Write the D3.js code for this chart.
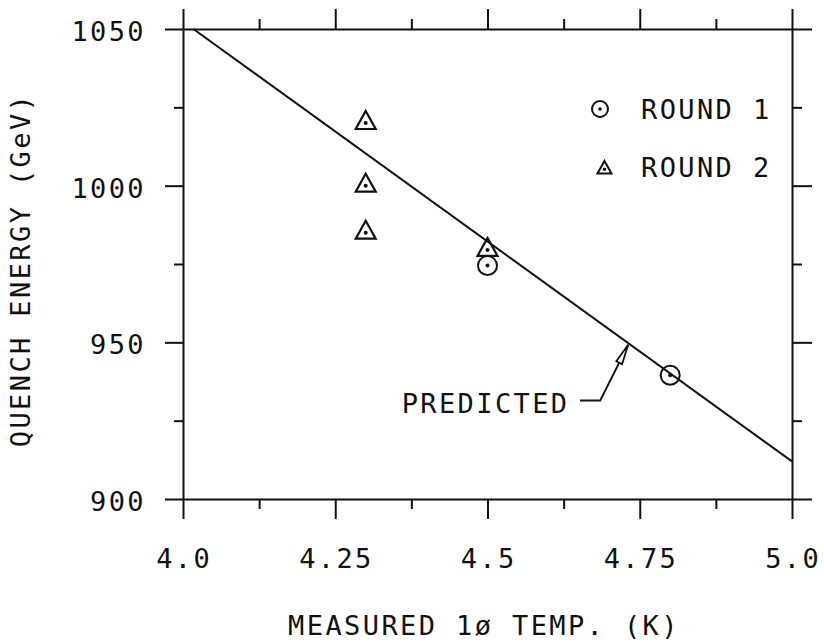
<!DOCTYPE html>
<html>
<head>
<meta charset="utf-8">
<script src="https://cdn.jsdelivr.net/npm/d3@7"></script>
<style>
  body { margin: 0; background: #fff; }
  svg { display: block; }
  text { font-family: "DejaVu Sans Mono", monospace; font-size: 27px; letter-spacing: 2.4px; fill: #111; }
</style>
</head>
<body>
<svg width="824" height="643"></svg>
<script>
// data
const xTickVals = [4.0, 4.25, 4.5, 4.75, 5.0];
const xTickLabels = ["4.0", "4.25", "4.5", "4.75", "5.0"];
const yTickVals = [900, 950, 1000, 1050];
const yTickLabels = ["900", "950", "1000", "1050"];

const round1X = [4.5, 4.8];
const round1Y = [974.5, 939.5];
const round2X = [4.3, 4.3, 4.3, 4.5];
const round2Y = [1020, 1000, 985, 979.5];

const predX = [4.017, 5.0];
const predY = [1050, 912];

// leader for the "PREDICTED" note: text start, dash start, elbow, arrow tip (data units)
const noteX = [4.359, 4.652, 4.685, 4.731];
const noteY = [927.4, 931.4, 931.4, 949.2];

const legendNames = ["ROUND 1", "ROUND 2"];

const svg = d3.select("svg");
const margin = {top: 29, right: 32, bottom: 144, left: 183};
const W = 824, H = 643;

const x = d3.scaleLinear().domain([4, 5]).range([margin.left, W - margin.right]);
const y = d3.scaleLinear().domain([900, 1050]).range([H - margin.bottom, margin.top]);

const xTicksAll = d3.range(0, 9).map(i => 4 + i * 0.125);
const yTicksAll = d3.range(0, 7).map(i => 900 + i * 25);
const isMajX = v => Math.abs(v * 4 - Math.round(v * 4)) < 1e-6;
const isMajY = v => v % 50 === 0;

function styleAxis(g, len, isMaj, big, small) {
  g.select(".domain").attr("stroke", "#111").attr("stroke-width", 2);
  g.selectAll(".tick line").attr("stroke", "#111").attr("stroke-width", 2)
    .attr(len, d => (isMaj(d) ? big : small));
  g.selectAll(".tick text").remove();
}

svg.append("g").attr("transform", `translate(0,${y(900)})`)
  .call(d3.axisBottom(x).tickValues(xTicksAll).tickSizeOuter(0))
  .call(g => styleAxis(g, "y2", isMajX, 20, 10));
svg.append("g").attr("transform", `translate(0,${y(1050)})`)
  .call(d3.axisTop(x).tickValues(xTicksAll).tickSizeOuter(0))
  .call(g => styleAxis(g, "y2", isMajX, -20, -10));
svg.append("g").attr("transform", `translate(${x(4)},0)`)
  .call(d3.axisLeft(y).tickValues(yTicksAll).tickSizeOuter(0))
  .call(g => styleAxis(g, "x2", isMajY, -18, -9));
svg.append("g").attr("transform", `translate(${x(5)},0)`)
  .call(d3.axisRight(y).tickValues(yTicksAll).tickSizeOuter(0))
  .call(g => styleAxis(g, "x2", isMajY, 20, 10));

// tick labels
svg.append("g").selectAll("text").data(xTickVals).join("text")
  .attr("x", d => x(d) + 1.2).attr("y", y(900) + 69)
  .attr("text-anchor", "middle")
  .text((d, i) => xTickLabels[i]);
svg.append("g").selectAll("text").data(yTickVals).join("text")
  .attr("x", x(4) - 37).attr("y", d => y(d) + 12)
  .attr("text-anchor", "end")
  .text((d, i) => yTickLabels[i]);

// axis titles
svg.append("text").attr("x", 484).attr("y", 635).attr("text-anchor", "middle")
  .text("MEASURED 1\u00f8 TEMP. (K)");
svg.append("text").attr("transform", "translate(30,270) rotate(-90)").attr("text-anchor", "middle")
  .text("QUENCH ENERGY (GeV)");

// predicted line
svg.append("path")
  .datum(predX.map((d, i) => [d, predY[i]]))
  .attr("d", d3.line().x(d => x(d[0])).y(d => y(d[1])))
  .attr("fill", "none").attr("stroke", "#111").attr("stroke-width", 2);

// markers
function triangle(cx, cy, w) {
  const h = w * 0.9;
  return `M${cx},${cy - h * 2 / 3}L${cx + w / 2},${cy + h / 3}L${cx - w / 2},${cy + h / 3}Z`;
}
const pts = svg.append("g");
round2X.forEach((d, i) => {
  pts.append("path").attr("d", triangle(x(d), y(round2Y[i]), 20))
    .attr("fill", "none").attr("stroke", "#111").attr("stroke-width", 2.2).attr("stroke-linejoin", "miter");
  pts.append("circle").attr("cx", x(d)).attr("cy", y(round2Y[i])).attr("r", 2).attr("fill", "#111");
});
round1X.forEach((d, i) => {
  pts.append("circle").attr("cx", x(d)).attr("cy", y(round1Y[i])).attr("r", 9.5)
    .attr("fill", "none").attr("stroke", "#111").attr("stroke-width", 2);
  pts.append("circle").attr("cx", x(d)).attr("cy", y(round1Y[i])).attr("r", 2).attr("fill", "#111");
});

// legend
const lg = svg.append("g");
lg.append("circle").attr("cx", 600).attr("cy", 109).attr("r", 8)
  .attr("fill", "none").attr("stroke", "#111").attr("stroke-width", 2);
lg.append("circle").attr("cx", 600).attr("cy", 109).attr("r", 1.8).attr("fill", "#111");
lg.append("path").attr("d", triangle(604.5, 169.3, 14))
  .attr("fill", "none").attr("stroke", "#111").attr("stroke-width", 2);
lg.append("circle").attr("cx", 604.5).attr("cy", 169.3).attr("r", 1.8).attr("fill", "#111");
lg.selectAll("text").data(legendNames).join("text")
  .attr("x", 641).attr("y", (d, i) => 118.5 + i * 58.3)
  .text(d => d);

// "PREDICTED" note with leader and arrow
svg.append("text").attr("x", x(noteX[0])).attr("y", y(noteY[0])).text("PREDICTED");
const lead = [1, 2, 3].map(i => [x(noteX[i]), y(noteY[i])]);
svg.append("path").attr("d", d3.line()(lead))
  .attr("fill", "none").attr("stroke", "#111").attr("stroke-width", 2);
const tip = lead[2], base = lead[1];
const ang = Math.atan2(tip[1] - base[1], tip[0] - base[0]);
const aL = 20, aW = 3.2;
const bx = tip[0] - aL * Math.cos(ang), by = tip[1] - aL * Math.sin(ang);
const head = [tip,
  [bx + aW * Math.sin(ang), by - aW * Math.cos(ang)],
  [bx - aW * Math.sin(ang), by + aW * Math.cos(ang)]];
svg.append("path").attr("d", d3.line()(head) + "Z")
  .attr("fill", "#fff").attr("stroke", "#111").attr("stroke-width", 1.8);
</script>
</body>
</html>
